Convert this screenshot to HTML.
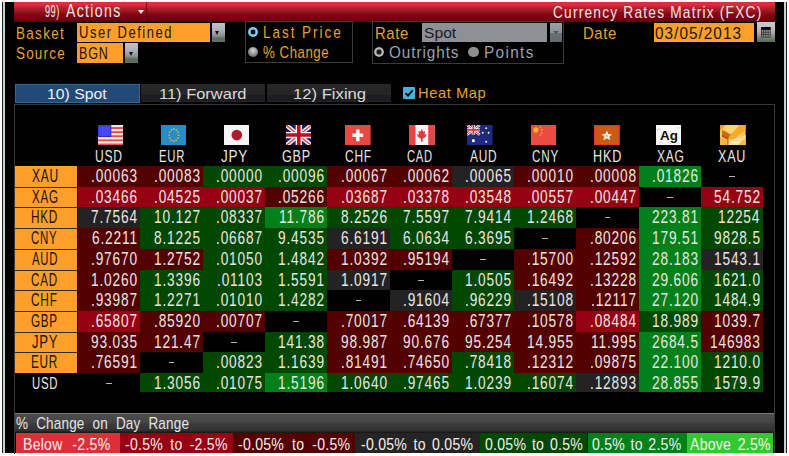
<!DOCTYPE html><html><head><meta charset="utf-8"><style>
html,body{margin:0;padding:0;width:789px;height:456px;overflow:hidden;background:#fff}
body>div,body>svg{position:absolute}
.t{position:absolute;white-space:pre;font-family:"Liberation Sans",sans-serif;transform-origin:0 0}
.m span{position:absolute;top:0}
</style></head><body>
<div style="left:0;top:0;width:789px;height:456px;background:#fff"></div>
<div style="left:2.00px;top:2.00px;width:1.00px;height:451.00px;background:#202020;"></div>
<div style="left:3.00px;top:2.00px;width:2.00px;height:451.00px;background:#c8d0d4;"></div>
<div style="left:784.00px;top:2.00px;width:2.00px;height:451.00px;background:#c8d0d4;"></div>
<div style="left:786.00px;top:2.00px;width:1.00px;height:451.00px;background:#202020;"></div>
<div style="left:5.00px;top:2.00px;width:779.00px;height:451.00px;background:#000;"></div>
<div style="left:14.00px;top:2.00px;width:761.00px;height:18.80px;background:linear-gradient(#e82838 0px,#d83040 1px,#d63040 3px,#c82838 4px,#b82030 6px,#a02028 7px,#9c1c20 9px,#901020 10px,#880818 12px,#800010 14px,#760010 16px,#6a0008 18.8px);"></div>
<div style="left:14.00px;top:20.80px;width:761.00px;height:1.00px;background:#1c2222;"></div>
<div style="left:146.00px;top:2.00px;width:1.00px;height:19.50px;background:rgba(60,0,0,0.6);"></div>
<div class="t" style="left:45.18px;top:4.00px;font-size:16.57px;line-height:16.57px;color:#ece6e2;transform:scaleX(0.5609);letter-spacing:0.706px;">99)</div>
<div class="t" style="left:65.80px;top:3.00px;font-size:17.59px;line-height:17.59px;color:#ece6e2;transform:scaleX(0.8000);letter-spacing:1.676px;">Actions</div>
<div style="left:137.5px;top:10px;width:0;height:0;border-left:3.2px solid transparent;border-right:3.2px solid transparent;border-top:4px solid #f0e8e8"></div>
<div class="t" style="left:553.01px;top:4.00px;font-size:17.15px;line-height:17.15px;color:#ece6e2;transform:scaleX(0.8000);letter-spacing:1.512px;">Currency Rates Matrix (FXC)</div>
<div class="t" style="left:15.52px;top:26.00px;font-size:16.86px;line-height:16.86px;color:#e8a030;transform:scaleX(0.8000);letter-spacing:1.635px;">Basket</div>
<div class="t" style="left:15.99px;top:46.00px;font-size:16.86px;line-height:16.86px;color:#e8a030;transform:scaleX(0.8000);letter-spacing:1.481px;">Source</div>
<div style="left:77.10px;top:22.50px;width:133.10px;height:19.40px;background:#fd9f2a;"></div>
<div class="t" style="left:78.72px;top:24.00px;font-size:16.28px;line-height:16.28px;color:#1c1408;transform:scaleX(0.8000);letter-spacing:1.879px;">User Defined</div>
<div style="left:211.60px;top:22.50px;width:13.00px;height:19.50px;background:linear-gradient(#c6bec8 0%,#b4b8c0 25%,#a0a6aa 50%,#868e8c 68%,#5c6a5e 82%,#66726a 100%);"></div>
<div style="left:215.10px;top:31.15px;width:0;height:0;border-left:2.6px solid transparent;border-right:2.6px solid transparent;border-top:4px solid #101010"></div>
<div style="left:77.10px;top:43.30px;width:46.00px;height:19.70px;background:#fd9f2a;"></div>
<div class="t" style="left:78.69px;top:46.00px;font-size:16.86px;line-height:16.86px;color:#1c1408;transform:scaleX(0.7452);letter-spacing:1.079px;">BGN</div>
<div style="left:125.20px;top:43.30px;width:12.80px;height:19.70px;background:linear-gradient(#c6bec8 0%,#b4b8c0 25%,#a0a6aa 50%,#868e8c 68%,#5c6a5e 82%,#66726a 100%);"></div>
<div style="left:128.60px;top:52.05px;width:0;height:0;border-left:2.6px solid transparent;border-right:2.6px solid transparent;border-top:4px solid #101010"></div>
<div style="left:245.3px;top:21px;width:105.6px;height:40.3px;border:1px solid #3c3c3c"></div>
<div style="left:247.6px;top:26.8px;width:10.4px;height:10.4px;border-radius:50%;background:radial-gradient(circle,#050505 0,#050505 2.1px,#58b0d0 2.6px,#8ad8f0 4px,#5ab8dc 5.2px)"></div>
<div style="left:247.6px;top:47px;width:10.4px;height:10.4px;border-radius:50%;background:radial-gradient(circle at 50% 35%,#d8d8d8,#8a8a8a 55%,#505050)"></div>
<div class="t" style="left:262.52px;top:25.00px;font-size:16.86px;line-height:16.86px;color:#e8a030;transform:scaleX(0.8000);letter-spacing:2.462px;">Last Price</div>
<div class="t" style="left:263.14px;top:44.00px;font-size:17.01px;line-height:17.01px;color:#e8a030;transform:scaleX(0.7779);letter-spacing:0.712px;">% Change</div>
<div style="left:372px;top:21.4px;width:189.6px;height:40.4px;border:1px solid #3c3c3c"></div>
<div class="t" style="left:375.01px;top:26.00px;font-size:16.86px;line-height:16.86px;color:#e8a030;transform:scaleX(0.8791);letter-spacing:0.712px;">Rate</div>
<div style="left:422.20px;top:22.90px;width:124.90px;height:18.80px;background:#8e9096;"></div>
<div class="t" style="left:423.50px;top:25.00px;font-size:15.41px;line-height:15.41px;color:#17202c;transform:scaleX(1.0165);">Spot</div>
<div style="left:549.90px;top:22.90px;width:12.60px;height:18.80px;background:linear-gradient(#9aa0a4 0%,#8a9094 50%,#6a7278 55%,#626a70 100%);"></div>
<div style="left:553.2px;top:31px;width:0;height:0;border-left:3px solid transparent;border-right:3px solid transparent;border-top:3px solid #50585c"></div>
<div style="left:373.6px;top:47px;width:10.4px;height:10.4px;border-radius:50%;background:radial-gradient(circle,#181818 0,#181818 2.1px,#8a8a8a 2.7px,#c8c8c8 4px,#7a7a7a 5.2px)"></div>
<div class="t" style="left:388.71px;top:44.00px;font-size:16.13px;line-height:16.13px;color:#9aa2aa;transform:scaleX(0.9500);letter-spacing:0.97px;">Outrights</div>
<div style="left:468.4px;top:47px;width:10.4px;height:10.4px;border-radius:50%;background:#8e8e8e"></div>
<div class="t" style="left:483.57px;top:44.00px;font-size:16.13px;line-height:16.13px;color:#9aa2aa;transform:scaleX(0.9500);letter-spacing:1.443px;">Points</div>
<div class="t" style="left:583.21px;top:26.00px;font-size:16.86px;line-height:16.86px;color:#e8a030;transform:scaleX(0.8819);letter-spacing:0.712px;">Date</div>
<div style="left:653.90px;top:22.80px;width:100.20px;height:18.80px;background:#fd9f2a;"></div>
<div class="t" style="left:655.39px;top:25.00px;font-size:17.01px;line-height:17.01px;color:#1c1408;transform:scaleX(0.9000);letter-spacing:1.163px;">03/05/2013</div>
<div style="left:757.00px;top:22.20px;width:17.60px;height:19.70px;background:linear-gradient(#cec6ce 0%,#c0c0c8 25%,#a8b0b0 50%,#8a9290 70%,#6a7a6c 85%,#5a6a5c 100%);"></div>
<svg style="position:absolute;left:761.4px;top:27.4px" width="9.6" height="10.4" viewBox="0 0 9.6 10.4"><rect x="0" y="0" width="9.6" height="10.4" fill="#202020"/><rect x="0" y="0" width="9.6" height="2.4" fill="#050505"/><rect x="0.60" y="3.00" width="1.7" height="1.9" fill="#8a9088"/><rect x="2.85" y="3.00" width="1.7" height="1.9" fill="#8a9088"/><rect x="5.10" y="3.00" width="1.7" height="1.9" fill="#8a9088"/><rect x="7.35" y="3.00" width="1.7" height="1.9" fill="#8a9088"/><rect x="0.60" y="5.45" width="1.7" height="1.9" fill="#8a9088"/><rect x="2.85" y="5.45" width="1.7" height="1.9" fill="#8a9088"/><rect x="5.10" y="5.45" width="1.7" height="1.9" fill="#8a9088"/><rect x="7.35" y="5.45" width="1.7" height="1.9" fill="#8a9088"/><rect x="0.60" y="7.90" width="1.7" height="1.9" fill="#8a9088"/><rect x="2.85" y="7.90" width="1.7" height="1.9" fill="#8a9088"/><rect x="5.10" y="7.90" width="1.7" height="1.9" fill="#8a9088"/><rect x="7.35" y="7.90" width="1.7" height="1.9" fill="#8a9088"/></svg>
<div style="left:14.7px;top:84.3px;width:125.3px;height:18.3px;background:#234a76;box-shadow:inset 0 0 0 1px #2c6a92"></div>
<div class="t" style="left:46.92px;top:87.00px;font-size:14.97px;line-height:14.97px;color:#f2eeee;transform:scaleX(1.0525);">10) Spot</div>
<div style="left:141.00px;top:83.80px;width:124.00px;height:18.40px;background:linear-gradient(#272727 0px,#262626 11px,#1b1d20 11.2px,#1b1d20 17px,#242424 17.2px);"></div>
<div style="left:267.00px;top:83.80px;width:124.40px;height:18.40px;background:linear-gradient(#272727 0px,#262626 11px,#1b1d20 11.2px,#1b1d20 17px,#242424 17.2px);"></div>
<div class="t" style="left:159.17px;top:87.00px;font-size:14.97px;line-height:14.97px;color:#dcd8d8;transform:scaleX(1.0997);">11) Forward</div>
<div class="t" style="left:293.35px;top:87.00px;font-size:14.97px;line-height:14.97px;color:#dcd8d8;transform:scaleX(1.1127);">12) Fixing</div>
<div style="left:403.00px;top:87.40px;width:11.80px;height:12.00px;background:#44b4dc;border-radius:1px"></div>
<svg style="position:absolute;left:403px;top:87.4px" width="12" height="12" viewBox="0 0 12 12"><path d="M2.5 6.2 L5 8.6 L9.6 3.4" stroke="#050505" stroke-width="1.8" fill="none"/></svg>
<div class="t" style="left:418.22px;top:85.00px;font-size:15.55px;line-height:15.55px;color:#e8a030;transform:scaleX(0.9450);letter-spacing:0.598px;">Heat Map</div>
<div style="left:14.3px;top:104.2px;width:759.3px;height:349px;border-left:1px solid #3a3838;border-top:1px solid #3a3838"></div>
<div style="left:773.60px;top:104.20px;width:1.20px;height:349.20px;background:#3a3838;"></div>
<svg style="position:absolute;left:97.70px;top:124.60px" width="25.6" height="20.6" viewBox="0 0 26 21" preserveAspectRatio="none"><rect width="26" height="21" fill="#eceae4"/><rect x="0" y="0.00" width="26" height="2.1" fill="#eceae4"/><rect x="0" y="2.10" width="26" height="2.1" fill="#ee4848"/><rect x="0" y="4.20" width="26" height="2.1" fill="#eceae4"/><rect x="0" y="6.30" width="26" height="2.1" fill="#ee4848"/><rect x="0" y="8.40" width="26" height="2.1" fill="#eceae4"/><rect x="0" y="10.50" width="26" height="2.1" fill="#ee4848"/><rect x="0" y="12.60" width="26" height="2.1" fill="#eceae4"/><rect x="0" y="14.70" width="26" height="2.1" fill="#ee4848"/><rect x="0" y="16.80" width="26" height="2.1" fill="#eceae4"/><rect x="0" y="18.90" width="26" height="2.1" fill="#ee4848"/><rect width="13" height="11.6" fill="#4848f0"/><rect width="13" height="11.6" fill="none" stroke="#2020e0" stroke-width="1"/></svg>
<div class="t" style="left:95.40px;top:148.00px;font-size:17.15px;line-height:17.15px;color:#ece6e2;transform:scaleX(0.7023);letter-spacing:1.089px;">USD</div>
<svg style="position:absolute;left:160.80px;top:124.60px" width="25.6" height="20.6" viewBox="0 0 26 21" preserveAspectRatio="none"><rect width="26" height="21" fill="#2a8cc4"/><circle cx="17.80" cy="10.30" r="0.95" fill="#d8b828"/><circle cx="17.16" cy="13.40" r="0.95" fill="#d8b828"/><circle cx="15.40" cy="15.67" r="0.95" fill="#d8b828"/><circle cx="13.00" cy="16.50" r="0.95" fill="#d8b828"/><circle cx="10.60" cy="15.67" r="0.95" fill="#d8b828"/><circle cx="8.84" cy="13.40" r="0.95" fill="#d8b828"/><circle cx="8.20" cy="10.30" r="0.95" fill="#d8b828"/><circle cx="8.84" cy="7.20" r="0.95" fill="#d8b828"/><circle cx="10.60" cy="4.93" r="0.95" fill="#d8b828"/><circle cx="13.00" cy="4.10" r="0.95" fill="#d8b828"/><circle cx="15.40" cy="4.93" r="0.95" fill="#d8b828"/><circle cx="17.16" cy="7.20" r="0.95" fill="#d8b828"/></svg>
<div class="t" style="left:158.79px;top:148.00px;font-size:17.15px;line-height:17.15px;color:#ece6e2;transform:scaleX(0.6626);letter-spacing:1.087px;">EUR</div>
<svg style="position:absolute;left:223.80px;top:124.60px" width="25.6" height="20.6" viewBox="0 0 26 21" preserveAspectRatio="none"><rect width="26" height="21" fill="#f6f4f4"/><circle cx="13" cy="10.3" r="5.4" fill="#b0182c"/></svg>
<div class="t" style="left:220.90px;top:148.00px;font-size:17.15px;line-height:17.15px;color:#ece6e2;transform:scaleX(0.7877);letter-spacing:0.983px;">JPY</div>
<svg style="position:absolute;left:285.70px;top:124.60px" width="25.6" height="20.6" viewBox="0 0 26 21" preserveAspectRatio="none"><rect width="26" height="21" fill="#1c1c64"/><path d="M0 0L26 21M26 0L0 21" stroke="#f0f0f0" stroke-width="4.4"/><path d="M0 0L26 21M26 0L0 21" stroke="#e04040" stroke-width="1.4"/><path d="M13 0V21M0 10.3H26" stroke="#f4f4f4" stroke-width="6.4"/><path d="M13 0V21M0 10.3H26" stroke="#b81020" stroke-width="3.6"/></svg>
<div class="t" style="left:281.77px;top:148.00px;font-size:17.15px;line-height:17.15px;color:#ece6e2;transform:scaleX(0.7335);letter-spacing:1.1px;">GBP</div>
<svg style="position:absolute;left:345.20px;top:124.60px" width="25.6" height="20.6" viewBox="0 0 26 21" preserveAspectRatio="none"><rect width="26" height="21" fill="#e84844"/><path d="M13 4.5V16.5M7.5 10.5H18.5" stroke="#f8f8f8" stroke-width="3.6"/></svg>
<div class="t" style="left:345.10px;top:148.00px;font-size:17.15px;line-height:17.15px;color:#ece6e2;transform:scaleX(0.7001);letter-spacing:1.076px;">CHF</div>
<svg style="position:absolute;left:409.10px;top:124.60px" width="25.6" height="20.6" viewBox="0 0 26 21" preserveAspectRatio="none"><rect width="26" height="21" fill="#f6f4f4"/><rect width="6.5" height="21" fill="#e84448"/><rect x="19.5" width="6.5" height="21" fill="#e84448"/><path d="M13 4L14.5 7L16.5 6.2L15.8 10L18 9L17 12L13.8 14V17H12.2V14L9 12L8 9L10.2 10L9.5 6.2L11.5 7Z" fill="#e03a40"/></svg>
<div class="t" style="left:407.04px;top:148.00px;font-size:17.15px;line-height:17.15px;color:#ece6e2;transform:scaleX(0.6528);letter-spacing:1.103px;">CAD</div>
<svg style="position:absolute;left:467.20px;top:124.60px" width="25.6" height="20.6" viewBox="0 0 26 21" preserveAspectRatio="none"><rect width="26" height="21" fill="#1e2a80"/><g><path d="M0 0L13 10M13 0L0 10" stroke="#f0f0f0" stroke-width="2.6"/><path d="M0 0L13 10M13 0L0 10" stroke="#e03040" stroke-width="1"/><path d="M6.5 0V10M0 5H13" stroke="#f4f4f4" stroke-width="3.4"/><path d="M6.5 0V10M0 5H13" stroke="#e03040" stroke-width="1.8"/></g><circle cx="6.5" cy="16" r="1.6" fill="#f0f0f0"/><circle cx="19.5" cy="3.2" r="1" fill="#f0f0f0"/><circle cx="16" cy="8" r="1" fill="#f0f0f0"/><circle cx="22" cy="8" r="1" fill="#f0f0f0"/><circle cx="19.5" cy="17" r="1" fill="#f0f0f0"/></svg>
<div class="t" style="left:469.50px;top:148.00px;font-size:17.15px;line-height:17.15px;color:#ece6e2;transform:scaleX(0.6927);letter-spacing:1.13px;">AUD</div>
<svg style="position:absolute;left:530.60px;top:124.60px" width="25.6" height="20.6" viewBox="0 0 26 21" preserveAspectRatio="none"><rect width="26" height="21" fill="#ec4c40"/><circle cx="5" cy="5" r="2.6" fill="#f0b030"/><circle cx="9.5" cy="2.5" r="0.8" fill="#f0b030"/><circle cx="11" cy="5" r="0.8" fill="#f0b030"/><circle cx="11" cy="8" r="0.8" fill="#f0b030"/><circle cx="9.5" cy="10.3" r="0.8" fill="#f0b030"/></svg>
<div class="t" style="left:532.31px;top:148.00px;font-size:17.15px;line-height:17.15px;color:#ece6e2;transform:scaleX(0.6824);letter-spacing:1.117px;">CNY</div>
<svg style="position:absolute;left:594.10px;top:124.60px" width="25.6" height="20.6" viewBox="0 0 26 21" preserveAspectRatio="none"><rect width="26" height="21" fill="#cc5a14"/><rect x="0.6" y="0.6" width="24.8" height="19.8" fill="none" stroke="#e83428" stroke-width="1.3"/><path d="M13 5.6L14.6 9.2L18.4 9.4L15.5 12L16.6 15.6L13 13.6L9.4 15.6L10.5 12L7.6 9.4L11.4 9.2Z" fill="#f4ece8"/><circle cx="13" cy="11.2" r="0.9" fill="#d89050"/></svg>
<div class="t" style="left:592.99px;top:148.00px;font-size:17.15px;line-height:17.15px;color:#ece6e2;transform:scaleX(0.7372);letter-spacing:1.087px;">HKD</div>
<svg style="position:absolute;left:655.70px;top:124.60px" width="25.6" height="20.6" viewBox="0 0 26 21" preserveAspectRatio="none"><rect width="26" height="21" fill="#f8f8f8"/><path d="M1 5 Q3 3 5 5" stroke="#c8c8d0" stroke-width="1" fill="none"/><path d="M20 3 L24 3" stroke="#d0d0d0" stroke-width="1"/><path d="M2 18 L6 18" stroke="#d8d8d0" stroke-width="1"/><text x="13.2" y="15.6" text-anchor="middle" font-family="Liberation Sans" font-weight="bold" font-size="13.6" fill="#0c0c0c">Ag</text></svg>
<div class="t" style="left:656.70px;top:148.00px;font-size:17.15px;line-height:17.15px;color:#ece6e2;transform:scaleX(0.7017);letter-spacing:1.103px;">XAG</div>
<svg style="position:absolute;left:720.00px;top:124.60px" width="25.6" height="20.6" viewBox="0 0 26 21" preserveAspectRatio="none"><rect width="26" height="21" fill="#f8c860"/><path d="M0 0H5L0 6Z" fill="#f0a028"/><path d="M5 0H20L11 9L6 6Z" fill="#f8d47a"/><path d="M20 0H26V5L12 16L8 13Z" fill="#f6aa2a"/><path d="M2 5L6 7L11 10L8 14L2 11Z" fill="#c87010"/><path d="M2 10L6 12L9 13L8 15L4 13L2 12Z" fill="#c04c10"/><path d="M0 12L8 16V21H0Z" fill="#f2b446"/><path d="M9 16L22 12L26 10V21H9Z" fill="#f2dca0"/><path d="M18 21L26 13V21Z" fill="#f8b838"/><path d="M8 15V21" stroke="#a86010" stroke-width="1"/><path d="M12 18H20" stroke="#f8f0d8" stroke-width="1.2"/></svg>
<div class="t" style="left:718.49px;top:148.00px;font-size:17.15px;line-height:17.15px;color:#ece6e2;transform:scaleX(0.7317);letter-spacing:1.07px;">XAU</div>
<div style="left:15.00px;top:166.00px;width:62.00px;height:21.00px;background:#fd9f2a;"></div>
<div class="t" style="left:31.70px;top:168.00px;font-size:17.44px;line-height:17.44px;color:#1c1408;transform:scaleX(0.6864);letter-spacing:1.088px;">XAU</div>
<div style="left:78.00px;top:166.00px;width:62.00px;height:21.00px;background:#530000;"></div>
<div class="t" style="left:90.85px;top:167.00px;font-size:18.02px;line-height:18.02px;color:#ece6e2;transform:scaleX(0.7600);letter-spacing:1.1px;">.00063</div>
<div style="left:140.00px;top:166.00px;width:63.00px;height:21.00px;background:#530000;"></div>
<div class="t" style="left:153.85px;top:167.00px;font-size:18.02px;line-height:18.02px;color:#ece6e2;transform:scaleX(0.7600);letter-spacing:1.1px;">.00083</div>
<div style="left:203.00px;top:166.00px;width:62.00px;height:21.00px;background:#004800;"></div>
<div class="t" style="left:215.78px;top:167.00px;font-size:18.02px;line-height:18.02px;color:#ece6e2;transform:scaleX(0.7600);letter-spacing:1.1px;">.00000</div>
<div style="left:265.00px;top:166.00px;width:62.00px;height:21.00px;background:#004800;"></div>
<div class="t" style="left:277.85px;top:167.00px;font-size:18.02px;line-height:18.02px;color:#ece6e2;transform:scaleX(0.7600);letter-spacing:1.1px;">.00096</div>
<div style="left:327.00px;top:166.00px;width:63.00px;height:21.00px;background:#530000;"></div>
<div class="t" style="left:340.99px;top:167.00px;font-size:18.02px;line-height:18.02px;color:#ece6e2;transform:scaleX(0.7600);letter-spacing:1.1px;">.00067</div>
<div style="left:390.00px;top:166.00px;width:62.00px;height:21.00px;background:#530000;"></div>
<div class="t" style="left:402.99px;top:167.00px;font-size:18.02px;line-height:18.02px;color:#ece6e2;transform:scaleX(0.7600);letter-spacing:1.1px;">.00062</div>
<div style="left:452.00px;top:166.00px;width:62.00px;height:21.00px;background:#232323;"></div>
<div class="t" style="left:464.85px;top:167.00px;font-size:18.02px;line-height:18.02px;color:#ece6e2;transform:scaleX(0.7600);letter-spacing:1.1px;">.00065</div>
<div style="left:514.00px;top:166.00px;width:62.00px;height:21.00px;background:#530000;"></div>
<div class="t" style="left:526.78px;top:167.00px;font-size:18.02px;line-height:18.02px;color:#ece6e2;transform:scaleX(0.7600);letter-spacing:1.1px;">.00010</div>
<div style="left:576.00px;top:166.00px;width:63.00px;height:21.00px;background:#530000;"></div>
<div class="t" style="left:589.85px;top:167.00px;font-size:18.02px;line-height:18.02px;color:#ece6e2;transform:scaleX(0.7600);letter-spacing:1.1px;">.00008</div>
<div style="left:639.00px;top:166.00px;width:62.00px;height:21.00px;background:#008018;"></div>
<div class="t" style="left:651.85px;top:167.00px;font-size:18.02px;line-height:18.02px;color:#ece6e2;transform:scaleX(0.7600);letter-spacing:1.1px;">.01826</div>
<div style="left:729.40px;top:175.60px;width:5.20px;height:1.20px;background:#b8b4b4;"></div>
<div style="left:15.00px;top:188.00px;width:62.00px;height:19.00px;background:#fd9f2a;"></div>
<div style="left:15.00px;top:187.00px;width:62.00px;height:1.00px;background:#2e2c0c;"></div>
<div class="t" style="left:31.71px;top:189.00px;font-size:17.44px;line-height:17.44px;color:#1c1408;transform:scaleX(0.6660);letter-spacing:1.122px;">XAG</div>
<div style="left:78.00px;top:187.00px;width:62.00px;height:20.00px;background:#960012;"></div>
<div class="t" style="left:90.85px;top:188.00px;font-size:18.02px;line-height:18.02px;color:#ece6e2;transform:scaleX(0.7600);letter-spacing:1.1px;">.03466</div>
<div style="left:140.00px;top:187.00px;width:63.00px;height:20.00px;background:#960012;"></div>
<div class="t" style="left:153.85px;top:188.00px;font-size:18.02px;line-height:18.02px;color:#ece6e2;transform:scaleX(0.7600);letter-spacing:1.1px;">.04525</div>
<div style="left:203.00px;top:187.00px;width:62.00px;height:20.00px;background:#960012;"></div>
<div class="t" style="left:215.99px;top:188.00px;font-size:18.02px;line-height:18.02px;color:#ece6e2;transform:scaleX(0.7600);letter-spacing:1.1px;">.00037</div>
<div style="left:265.00px;top:187.00px;width:62.00px;height:20.00px;background:#530000;"></div>
<div class="t" style="left:277.85px;top:188.00px;font-size:18.02px;line-height:18.02px;color:#ece6e2;transform:scaleX(0.7600);letter-spacing:1.1px;">.05266</div>
<div style="left:327.00px;top:187.00px;width:63.00px;height:20.00px;background:#960012;"></div>
<div class="t" style="left:340.99px;top:188.00px;font-size:18.02px;line-height:18.02px;color:#ece6e2;transform:scaleX(0.7600);letter-spacing:1.1px;">.03687</div>
<div style="left:390.00px;top:187.00px;width:62.00px;height:20.00px;background:#960012;"></div>
<div class="t" style="left:402.85px;top:188.00px;font-size:18.02px;line-height:18.02px;color:#ece6e2;transform:scaleX(0.7600);letter-spacing:1.1px;">.03378</div>
<div style="left:452.00px;top:187.00px;width:62.00px;height:20.00px;background:#960012;"></div>
<div class="t" style="left:464.85px;top:188.00px;font-size:18.02px;line-height:18.02px;color:#ece6e2;transform:scaleX(0.7600);letter-spacing:1.1px;">.03548</div>
<div style="left:514.00px;top:187.00px;width:62.00px;height:20.00px;background:#960012;"></div>
<div class="t" style="left:526.99px;top:188.00px;font-size:18.02px;line-height:18.02px;color:#ece6e2;transform:scaleX(0.7600);letter-spacing:1.1px;">.00557</div>
<div style="left:576.00px;top:187.00px;width:63.00px;height:20.00px;background:#960012;"></div>
<div class="t" style="left:589.99px;top:188.00px;font-size:18.02px;line-height:18.02px;color:#ece6e2;transform:scaleX(0.7600);letter-spacing:1.1px;">.00447</div>
<div style="left:667.40px;top:196.60px;width:5.20px;height:1.20px;background:#b8b4b4;"></div>
<div style="left:701.00px;top:187.00px;width:62.00px;height:20.00px;background:#960012;"></div>
<div class="t" style="left:713.99px;top:188.00px;font-size:18.02px;line-height:18.02px;color:#ece6e2;transform:scaleX(0.7600);letter-spacing:1.1px;">54.752</div>
<div style="left:15.00px;top:208.00px;width:62.00px;height:20.00px;background:#fd9f2a;"></div>
<div style="left:15.00px;top:207.00px;width:62.00px;height:1.00px;background:#2e2c0c;"></div>
<div class="t" style="left:31.06px;top:209.00px;font-size:17.44px;line-height:17.44px;color:#1c1408;transform:scaleX(0.6760);letter-spacing:1.105px;">HKD</div>
<div style="left:78.00px;top:207.00px;width:62.00px;height:21.00px;background:#232323;"></div>
<div class="t" style="left:90.72px;top:208.00px;font-size:18.02px;line-height:18.02px;color:#ece6e2;transform:scaleX(0.7600);letter-spacing:1.1px;">7.7564</div>
<div style="left:140.00px;top:207.00px;width:63.00px;height:21.00px;background:#004800;"></div>
<div class="t" style="left:153.99px;top:208.00px;font-size:18.02px;line-height:18.02px;color:#ece6e2;transform:scaleX(0.7600);letter-spacing:1.1px;">10.127</div>
<div style="left:203.00px;top:207.00px;width:62.00px;height:21.00px;background:#004800;"></div>
<div class="t" style="left:215.99px;top:208.00px;font-size:18.02px;line-height:18.02px;color:#ece6e2;transform:scaleX(0.7600);letter-spacing:1.1px;">.08337</div>
<div style="left:265.00px;top:207.00px;width:62.00px;height:21.00px;background:#008018;"></div>
<div class="t" style="left:278.88px;top:208.00px;font-size:18.02px;line-height:18.02px;color:#ece6e2;transform:scaleX(0.7600);letter-spacing:1.1px;">11.786</div>
<div style="left:327.00px;top:207.00px;width:63.00px;height:21.00px;background:#004800;"></div>
<div class="t" style="left:340.85px;top:208.00px;font-size:18.02px;line-height:18.02px;color:#ece6e2;transform:scaleX(0.7600);letter-spacing:1.1px;">8.2526</div>
<div style="left:390.00px;top:207.00px;width:62.00px;height:21.00px;background:#004800;"></div>
<div class="t" style="left:402.99px;top:208.00px;font-size:18.02px;line-height:18.02px;color:#ece6e2;transform:scaleX(0.7600);letter-spacing:1.1px;">7.5597</div>
<div style="left:452.00px;top:207.00px;width:62.00px;height:21.00px;background:#004800;"></div>
<div class="t" style="left:464.72px;top:208.00px;font-size:18.02px;line-height:18.02px;color:#ece6e2;transform:scaleX(0.7600);letter-spacing:1.1px;">7.9414</div>
<div style="left:514.00px;top:207.00px;width:62.00px;height:21.00px;background:#004800;"></div>
<div class="t" style="left:526.85px;top:208.00px;font-size:18.02px;line-height:18.02px;color:#ece6e2;transform:scaleX(0.7600);letter-spacing:1.1px;">1.2468</div>
<div style="left:604.90px;top:216.60px;width:5.20px;height:1.20px;background:#b8b4b4;"></div>
<div style="left:639.00px;top:207.00px;width:62.00px;height:21.00px;background:#008018;"></div>
<div class="t" style="left:651.92px;top:208.00px;font-size:18.02px;line-height:18.02px;color:#ece6e2;transform:scaleX(0.7600);letter-spacing:1.1px;">223.81</div>
<div style="left:701.00px;top:207.00px;width:62.00px;height:21.00px;background:#004800;"></div>
<div class="t" style="left:718.39px;top:208.00px;font-size:18.02px;line-height:18.02px;color:#ece6e2;transform:scaleX(0.7600);letter-spacing:1.1px;">12254</div>
<div style="left:15.00px;top:229.00px;width:62.00px;height:20.00px;background:#fd9f2a;"></div>
<div style="left:15.00px;top:228.00px;width:62.00px;height:1.00px;background:#2e2c0c;"></div>
<div class="t" style="left:31.43px;top:230.00px;font-size:17.44px;line-height:17.44px;color:#1c1408;transform:scaleX(0.6578);letter-spacing:1.136px;">CNY</div>
<div style="left:78.00px;top:228.00px;width:62.00px;height:21.00px;background:#530000;"></div>
<div class="t" style="left:91.95px;top:229.00px;font-size:18.02px;line-height:18.02px;color:#ece6e2;transform:scaleX(0.7600);letter-spacing:1.1px;">6.2211</div>
<div style="left:140.00px;top:228.00px;width:63.00px;height:21.00px;background:#004800;"></div>
<div class="t" style="left:153.85px;top:229.00px;font-size:18.02px;line-height:18.02px;color:#ece6e2;transform:scaleX(0.7600);letter-spacing:1.1px;">8.1225</div>
<div style="left:203.00px;top:228.00px;width:62.00px;height:21.00px;background:#004800;"></div>
<div class="t" style="left:215.99px;top:229.00px;font-size:18.02px;line-height:18.02px;color:#ece6e2;transform:scaleX(0.7600);letter-spacing:1.1px;">.06687</div>
<div style="left:265.00px;top:228.00px;width:62.00px;height:21.00px;background:#004800;"></div>
<div class="t" style="left:277.85px;top:229.00px;font-size:18.02px;line-height:18.02px;color:#ece6e2;transform:scaleX(0.7600);letter-spacing:1.1px;">9.4535</div>
<div style="left:327.00px;top:228.00px;width:63.00px;height:21.00px;background:#232323;"></div>
<div class="t" style="left:340.92px;top:229.00px;font-size:18.02px;line-height:18.02px;color:#ece6e2;transform:scaleX(0.7600);letter-spacing:1.1px;">6.6191</div>
<div style="left:390.00px;top:228.00px;width:62.00px;height:21.00px;background:#004800;"></div>
<div class="t" style="left:402.72px;top:229.00px;font-size:18.02px;line-height:18.02px;color:#ece6e2;transform:scaleX(0.7600);letter-spacing:1.1px;">6.0634</div>
<div style="left:452.00px;top:228.00px;width:62.00px;height:21.00px;background:#004800;"></div>
<div class="t" style="left:464.85px;top:229.00px;font-size:18.02px;line-height:18.02px;color:#ece6e2;transform:scaleX(0.7600);letter-spacing:1.1px;">6.3695</div>
<div style="left:542.40px;top:237.60px;width:5.20px;height:1.20px;background:#b8b4b4;"></div>
<div style="left:576.00px;top:228.00px;width:63.00px;height:21.00px;background:#530000;"></div>
<div class="t" style="left:589.85px;top:229.00px;font-size:18.02px;line-height:18.02px;color:#ece6e2;transform:scaleX(0.7600);letter-spacing:1.1px;">.80206</div>
<div style="left:639.00px;top:228.00px;width:62.00px;height:21.00px;background:#008018;"></div>
<div class="t" style="left:651.92px;top:229.00px;font-size:18.02px;line-height:18.02px;color:#ece6e2;transform:scaleX(0.7600);letter-spacing:1.1px;">179.51</div>
<div style="left:701.00px;top:228.00px;width:62.00px;height:21.00px;background:#004800;"></div>
<div class="t" style="left:713.85px;top:229.00px;font-size:18.02px;line-height:18.02px;color:#ece6e2;transform:scaleX(0.7600);letter-spacing:1.1px;">9828.5</div>
<div style="left:15.00px;top:250.00px;width:62.00px;height:20.00px;background:#fd9f2a;"></div>
<div style="left:15.00px;top:249.00px;width:62.00px;height:1.00px;background:#2e2c0c;"></div>
<div class="t" style="left:32.00px;top:251.00px;font-size:17.44px;line-height:17.44px;color:#1c1408;transform:scaleX(0.6498);letter-spacing:1.15px;">AUD</div>
<div style="left:78.00px;top:249.00px;width:62.00px;height:21.00px;background:#530000;"></div>
<div class="t" style="left:90.78px;top:250.00px;font-size:18.02px;line-height:18.02px;color:#ece6e2;transform:scaleX(0.7600);letter-spacing:1.1px;">.97670</div>
<div style="left:140.00px;top:249.00px;width:63.00px;height:21.00px;background:#530000;"></div>
<div class="t" style="left:153.99px;top:250.00px;font-size:18.02px;line-height:18.02px;color:#ece6e2;transform:scaleX(0.7600);letter-spacing:1.1px;">1.2752</div>
<div style="left:203.00px;top:249.00px;width:62.00px;height:21.00px;background:#004800;"></div>
<div class="t" style="left:215.78px;top:250.00px;font-size:18.02px;line-height:18.02px;color:#ece6e2;transform:scaleX(0.7600);letter-spacing:1.1px;">.01050</div>
<div style="left:265.00px;top:249.00px;width:62.00px;height:21.00px;background:#004800;"></div>
<div class="t" style="left:277.99px;top:250.00px;font-size:18.02px;line-height:18.02px;color:#ece6e2;transform:scaleX(0.7600);letter-spacing:1.1px;">1.4842</div>
<div style="left:327.00px;top:249.00px;width:63.00px;height:21.00px;background:#530000;"></div>
<div class="t" style="left:340.99px;top:250.00px;font-size:18.02px;line-height:18.02px;color:#ece6e2;transform:scaleX(0.7600);letter-spacing:1.1px;">1.0392</div>
<div style="left:390.00px;top:249.00px;width:62.00px;height:21.00px;background:#530000;"></div>
<div class="t" style="left:402.72px;top:250.00px;font-size:18.02px;line-height:18.02px;color:#ece6e2;transform:scaleX(0.7600);letter-spacing:1.1px;">.95194</div>
<div style="left:480.40px;top:258.60px;width:5.20px;height:1.20px;background:#b8b4b4;"></div>
<div style="left:514.00px;top:249.00px;width:62.00px;height:21.00px;background:#530000;"></div>
<div class="t" style="left:526.78px;top:250.00px;font-size:18.02px;line-height:18.02px;color:#ece6e2;transform:scaleX(0.7600);letter-spacing:1.1px;">.15700</div>
<div style="left:576.00px;top:249.00px;width:63.00px;height:21.00px;background:#530000;"></div>
<div class="t" style="left:589.99px;top:250.00px;font-size:18.02px;line-height:18.02px;color:#ece6e2;transform:scaleX(0.7600);letter-spacing:1.1px;">.12592</div>
<div style="left:639.00px;top:249.00px;width:62.00px;height:21.00px;background:#008018;"></div>
<div class="t" style="left:651.85px;top:250.00px;font-size:18.02px;line-height:18.02px;color:#ece6e2;transform:scaleX(0.7600);letter-spacing:1.1px;">28.183</div>
<div style="left:701.00px;top:249.00px;width:62.00px;height:21.00px;background:#232323;"></div>
<div class="t" style="left:713.92px;top:250.00px;font-size:18.02px;line-height:18.02px;color:#ece6e2;transform:scaleX(0.7600);letter-spacing:1.1px;">1543.1</div>
<div style="left:15.00px;top:271.00px;width:62.00px;height:19.00px;background:#fd9f2a;"></div>
<div style="left:15.00px;top:270.00px;width:62.00px;height:1.00px;background:#2e2c0c;"></div>
<div class="t" style="left:31.42px;top:272.00px;font-size:17.44px;line-height:17.44px;color:#1c1408;transform:scaleX(0.6660);letter-spacing:1.122px;">CAD</div>
<div style="left:78.00px;top:270.00px;width:62.00px;height:20.00px;background:#530000;"></div>
<div class="t" style="left:90.78px;top:271.00px;font-size:18.02px;line-height:18.02px;color:#ece6e2;transform:scaleX(0.7600);letter-spacing:1.1px;">1.0260</div>
<div style="left:140.00px;top:270.00px;width:63.00px;height:20.00px;background:#004800;"></div>
<div class="t" style="left:153.85px;top:271.00px;font-size:18.02px;line-height:18.02px;color:#ece6e2;transform:scaleX(0.7600);letter-spacing:1.1px;">1.3396</div>
<div style="left:203.00px;top:270.00px;width:62.00px;height:20.00px;background:#004800;"></div>
<div class="t" style="left:216.88px;top:271.00px;font-size:18.02px;line-height:18.02px;color:#ece6e2;transform:scaleX(0.7600);letter-spacing:1.1px;">.01103</div>
<div style="left:265.00px;top:270.00px;width:62.00px;height:20.00px;background:#004800;"></div>
<div class="t" style="left:277.92px;top:271.00px;font-size:18.02px;line-height:18.02px;color:#ece6e2;transform:scaleX(0.7600);letter-spacing:1.1px;">1.5591</div>
<div style="left:327.00px;top:270.00px;width:63.00px;height:20.00px;background:#232323;"></div>
<div class="t" style="left:340.99px;top:271.00px;font-size:18.02px;line-height:18.02px;color:#ece6e2;transform:scaleX(0.7600);letter-spacing:1.1px;">1.0917</div>
<div style="left:418.40px;top:279.60px;width:5.20px;height:1.20px;background:#b8b4b4;"></div>
<div style="left:452.00px;top:270.00px;width:62.00px;height:20.00px;background:#004800;"></div>
<div class="t" style="left:464.85px;top:271.00px;font-size:18.02px;line-height:18.02px;color:#ece6e2;transform:scaleX(0.7600);letter-spacing:1.1px;">1.0505</div>
<div style="left:514.00px;top:270.00px;width:62.00px;height:20.00px;background:#530000;"></div>
<div class="t" style="left:526.99px;top:271.00px;font-size:18.02px;line-height:18.02px;color:#ece6e2;transform:scaleX(0.7600);letter-spacing:1.1px;">.16492</div>
<div style="left:576.00px;top:270.00px;width:63.00px;height:20.00px;background:#530000;"></div>
<div class="t" style="left:589.85px;top:271.00px;font-size:18.02px;line-height:18.02px;color:#ece6e2;transform:scaleX(0.7600);letter-spacing:1.1px;">.13228</div>
<div style="left:639.00px;top:270.00px;width:62.00px;height:20.00px;background:#008018;"></div>
<div class="t" style="left:651.85px;top:271.00px;font-size:18.02px;line-height:18.02px;color:#ece6e2;transform:scaleX(0.7600);letter-spacing:1.1px;">29.606</div>
<div style="left:701.00px;top:270.00px;width:62.00px;height:20.00px;background:#004800;"></div>
<div class="t" style="left:713.78px;top:271.00px;font-size:18.02px;line-height:18.02px;color:#ece6e2;transform:scaleX(0.7600);letter-spacing:1.1px;">1621.0</div>
<div style="left:15.00px;top:291.00px;width:62.00px;height:20.00px;background:#fd9f2a;"></div>
<div style="left:15.00px;top:290.00px;width:62.00px;height:1.00px;background:#2e2c0c;"></div>
<div class="t" style="left:31.40px;top:292.00px;font-size:17.44px;line-height:17.44px;color:#1c1408;transform:scaleX(0.6829);letter-spacing:1.094px;">CHF</div>
<div style="left:78.00px;top:290.00px;width:62.00px;height:21.00px;background:#530000;"></div>
<div class="t" style="left:90.99px;top:291.00px;font-size:18.02px;line-height:18.02px;color:#ece6e2;transform:scaleX(0.7600);letter-spacing:1.1px;">.93987</div>
<div style="left:140.00px;top:290.00px;width:63.00px;height:21.00px;background:#004800;"></div>
<div class="t" style="left:153.92px;top:291.00px;font-size:18.02px;line-height:18.02px;color:#ece6e2;transform:scaleX(0.7600);letter-spacing:1.1px;">1.2271</div>
<div style="left:203.00px;top:290.00px;width:62.00px;height:21.00px;background:#004800;"></div>
<div class="t" style="left:215.78px;top:291.00px;font-size:18.02px;line-height:18.02px;color:#ece6e2;transform:scaleX(0.7600);letter-spacing:1.1px;">.01010</div>
<div style="left:265.00px;top:290.00px;width:62.00px;height:21.00px;background:#004800;"></div>
<div class="t" style="left:277.99px;top:291.00px;font-size:18.02px;line-height:18.02px;color:#ece6e2;transform:scaleX(0.7600);letter-spacing:1.1px;">1.4282</div>
<div style="left:355.90px;top:299.60px;width:5.20px;height:1.20px;background:#b8b4b4;"></div>
<div style="left:390.00px;top:290.00px;width:62.00px;height:21.00px;background:#232323;"></div>
<div class="t" style="left:402.72px;top:291.00px;font-size:18.02px;line-height:18.02px;color:#ece6e2;transform:scaleX(0.7600);letter-spacing:1.1px;">.91604</div>
<div style="left:452.00px;top:290.00px;width:62.00px;height:21.00px;background:#004800;"></div>
<div class="t" style="left:464.92px;top:291.00px;font-size:18.02px;line-height:18.02px;color:#ece6e2;transform:scaleX(0.7600);letter-spacing:1.1px;">.96229</div>
<div style="left:514.00px;top:290.00px;width:62.00px;height:21.00px;background:#232323;"></div>
<div class="t" style="left:526.85px;top:291.00px;font-size:18.02px;line-height:18.02px;color:#ece6e2;transform:scaleX(0.7600);letter-spacing:1.1px;">.15108</div>
<div style="left:576.00px;top:290.00px;width:63.00px;height:21.00px;background:#530000;"></div>
<div class="t" style="left:591.02px;top:291.00px;font-size:18.02px;line-height:18.02px;color:#ece6e2;transform:scaleX(0.7600);letter-spacing:1.1px;">.12117</div>
<div style="left:639.00px;top:290.00px;width:62.00px;height:21.00px;background:#008018;"></div>
<div class="t" style="left:651.78px;top:291.00px;font-size:18.02px;line-height:18.02px;color:#ece6e2;transform:scaleX(0.7600);letter-spacing:1.1px;">27.120</div>
<div style="left:701.00px;top:290.00px;width:62.00px;height:21.00px;background:#004800;"></div>
<div class="t" style="left:713.92px;top:291.00px;font-size:18.02px;line-height:18.02px;color:#ece6e2;transform:scaleX(0.7600);letter-spacing:1.1px;">1484.9</div>
<div style="left:15.00px;top:312.00px;width:62.00px;height:20.00px;background:#fd9f2a;"></div>
<div style="left:15.00px;top:311.00px;width:62.00px;height:1.00px;background:#2e2c0c;"></div>
<div class="t" style="left:31.42px;top:313.00px;font-size:17.44px;line-height:17.44px;color:#1c1408;transform:scaleX(0.6676);letter-spacing:1.119px;">GBP</div>
<div style="left:78.00px;top:311.00px;width:62.00px;height:21.00px;background:#960012;"></div>
<div class="t" style="left:90.99px;top:312.00px;font-size:18.02px;line-height:18.02px;color:#ece6e2;transform:scaleX(0.7600);letter-spacing:1.1px;">.65807</div>
<div style="left:140.00px;top:311.00px;width:63.00px;height:21.00px;background:#530000;"></div>
<div class="t" style="left:153.78px;top:312.00px;font-size:18.02px;line-height:18.02px;color:#ece6e2;transform:scaleX(0.7600);letter-spacing:1.1px;">.85920</div>
<div style="left:203.00px;top:311.00px;width:62.00px;height:21.00px;background:#530000;"></div>
<div class="t" style="left:215.99px;top:312.00px;font-size:18.02px;line-height:18.02px;color:#ece6e2;transform:scaleX(0.7600);letter-spacing:1.1px;">.00707</div>
<div style="left:293.40px;top:320.60px;width:5.20px;height:1.20px;background:#b8b4b4;"></div>
<div style="left:327.00px;top:311.00px;width:63.00px;height:21.00px;background:#530000;"></div>
<div class="t" style="left:340.99px;top:312.00px;font-size:18.02px;line-height:18.02px;color:#ece6e2;transform:scaleX(0.7600);letter-spacing:1.1px;">.70017</div>
<div style="left:390.00px;top:311.00px;width:62.00px;height:21.00px;background:#530000;"></div>
<div class="t" style="left:402.92px;top:312.00px;font-size:18.02px;line-height:18.02px;color:#ece6e2;transform:scaleX(0.7600);letter-spacing:1.1px;">.64139</div>
<div style="left:452.00px;top:311.00px;width:62.00px;height:21.00px;background:#530000;"></div>
<div class="t" style="left:464.99px;top:312.00px;font-size:18.02px;line-height:18.02px;color:#ece6e2;transform:scaleX(0.7600);letter-spacing:1.1px;">.67377</div>
<div style="left:514.00px;top:311.00px;width:62.00px;height:21.00px;background:#530000;"></div>
<div class="t" style="left:526.85px;top:312.00px;font-size:18.02px;line-height:18.02px;color:#ece6e2;transform:scaleX(0.7600);letter-spacing:1.1px;">.10578</div>
<div style="left:576.00px;top:311.00px;width:63.00px;height:21.00px;background:#960012;"></div>
<div class="t" style="left:589.72px;top:312.00px;font-size:18.02px;line-height:18.02px;color:#ece6e2;transform:scaleX(0.7600);letter-spacing:1.1px;">.08484</div>
<div style="left:639.00px;top:311.00px;width:62.00px;height:21.00px;background:#004800;"></div>
<div class="t" style="left:651.92px;top:312.00px;font-size:18.02px;line-height:18.02px;color:#ece6e2;transform:scaleX(0.7600);letter-spacing:1.1px;">18.989</div>
<div style="left:701.00px;top:311.00px;width:62.00px;height:21.00px;background:#530000;"></div>
<div class="t" style="left:713.99px;top:312.00px;font-size:18.02px;line-height:18.02px;color:#ece6e2;transform:scaleX(0.7600);letter-spacing:1.1px;">1039.7</div>
<div style="left:15.00px;top:333.00px;width:62.00px;height:19.00px;background:#fd9f2a;"></div>
<div style="left:15.00px;top:332.00px;width:62.00px;height:1.00px;background:#2e2c0c;"></div>
<div class="t" style="left:31.80px;top:334.00px;font-size:17.44px;line-height:17.44px;color:#1c1408;transform:scaleX(0.7476);letter-spacing:0.999px;">JPY</div>
<div style="left:78.00px;top:332.00px;width:62.00px;height:20.00px;background:#530000;"></div>
<div class="t" style="left:90.85px;top:333.00px;font-size:18.02px;line-height:18.02px;color:#ece6e2;transform:scaleX(0.7600);letter-spacing:1.1px;">93.035</div>
<div style="left:140.00px;top:332.00px;width:63.00px;height:20.00px;background:#530000;"></div>
<div class="t" style="left:153.99px;top:333.00px;font-size:18.02px;line-height:18.02px;color:#ece6e2;transform:scaleX(0.7600);letter-spacing:1.1px;">121.47</div>
<div style="left:231.40px;top:341.60px;width:5.20px;height:1.20px;background:#b8b4b4;"></div>
<div style="left:265.00px;top:332.00px;width:62.00px;height:20.00px;background:#004800;"></div>
<div class="t" style="left:277.85px;top:333.00px;font-size:18.02px;line-height:18.02px;color:#ece6e2;transform:scaleX(0.7600);letter-spacing:1.1px;">141.38</div>
<div style="left:327.00px;top:332.00px;width:63.00px;height:20.00px;background:#530000;"></div>
<div class="t" style="left:340.99px;top:333.00px;font-size:18.02px;line-height:18.02px;color:#ece6e2;transform:scaleX(0.7600);letter-spacing:1.1px;">98.987</div>
<div style="left:390.00px;top:332.00px;width:62.00px;height:20.00px;background:#530000;"></div>
<div class="t" style="left:402.85px;top:333.00px;font-size:18.02px;line-height:18.02px;color:#ece6e2;transform:scaleX(0.7600);letter-spacing:1.1px;">90.676</div>
<div style="left:452.00px;top:332.00px;width:62.00px;height:20.00px;background:#530000;"></div>
<div class="t" style="left:464.72px;top:333.00px;font-size:18.02px;line-height:18.02px;color:#ece6e2;transform:scaleX(0.7600);letter-spacing:1.1px;">95.254</div>
<div style="left:514.00px;top:332.00px;width:62.00px;height:20.00px;background:#530000;"></div>
<div class="t" style="left:526.85px;top:333.00px;font-size:18.02px;line-height:18.02px;color:#ece6e2;transform:scaleX(0.7600);letter-spacing:1.1px;">14.955</div>
<div style="left:576.00px;top:332.00px;width:63.00px;height:20.00px;background:#530000;"></div>
<div class="t" style="left:590.88px;top:333.00px;font-size:18.02px;line-height:18.02px;color:#ece6e2;transform:scaleX(0.7600);letter-spacing:1.1px;">11.995</div>
<div style="left:639.00px;top:332.00px;width:62.00px;height:20.00px;background:#008018;"></div>
<div class="t" style="left:651.85px;top:333.00px;font-size:18.02px;line-height:18.02px;color:#ece6e2;transform:scaleX(0.7600);letter-spacing:1.1px;">2684.5</div>
<div style="left:701.00px;top:332.00px;width:62.00px;height:20.00px;background:#530000;"></div>
<div class="t" style="left:710.09px;top:333.00px;font-size:18.02px;line-height:18.02px;color:#ece6e2;transform:scaleX(0.7600);letter-spacing:1.1px;">146983</div>
<div style="left:15.00px;top:353.00px;width:62.00px;height:20.00px;background:#fd9f2a;"></div>
<div style="left:15.00px;top:352.00px;width:62.00px;height:1.00px;background:#2e2c0c;"></div>
<div class="t" style="left:31.06px;top:354.00px;font-size:17.44px;line-height:17.44px;color:#1c1408;transform:scaleX(0.6760);letter-spacing:1.105px;">EUR</div>
<div style="left:78.00px;top:352.00px;width:62.00px;height:21.00px;background:#530000;"></div>
<div class="t" style="left:90.92px;top:353.00px;font-size:18.02px;line-height:18.02px;color:#ece6e2;transform:scaleX(0.7600);letter-spacing:1.1px;">.76591</div>
<div style="left:168.90px;top:361.60px;width:5.20px;height:1.20px;background:#b8b4b4;"></div>
<div style="left:203.00px;top:352.00px;width:62.00px;height:21.00px;background:#004800;"></div>
<div class="t" style="left:215.85px;top:353.00px;font-size:18.02px;line-height:18.02px;color:#ece6e2;transform:scaleX(0.7600);letter-spacing:1.1px;">.00823</div>
<div style="left:265.00px;top:352.00px;width:62.00px;height:21.00px;background:#004800;"></div>
<div class="t" style="left:277.92px;top:353.00px;font-size:18.02px;line-height:18.02px;color:#ece6e2;transform:scaleX(0.7600);letter-spacing:1.1px;">1.1639</div>
<div style="left:327.00px;top:352.00px;width:63.00px;height:21.00px;background:#530000;"></div>
<div class="t" style="left:340.92px;top:353.00px;font-size:18.02px;line-height:18.02px;color:#ece6e2;transform:scaleX(0.7600);letter-spacing:1.1px;">.81491</div>
<div style="left:390.00px;top:352.00px;width:62.00px;height:21.00px;background:#530000;"></div>
<div class="t" style="left:402.78px;top:353.00px;font-size:18.02px;line-height:18.02px;color:#ece6e2;transform:scaleX(0.7600);letter-spacing:1.1px;">.74650</div>
<div style="left:452.00px;top:352.00px;width:62.00px;height:21.00px;background:#004800;"></div>
<div class="t" style="left:464.85px;top:353.00px;font-size:18.02px;line-height:18.02px;color:#ece6e2;transform:scaleX(0.7600);letter-spacing:1.1px;">.78418</div>
<div style="left:514.00px;top:352.00px;width:62.00px;height:21.00px;background:#530000;"></div>
<div class="t" style="left:526.99px;top:353.00px;font-size:18.02px;line-height:18.02px;color:#ece6e2;transform:scaleX(0.7600);letter-spacing:1.1px;">.12312</div>
<div style="left:576.00px;top:352.00px;width:63.00px;height:21.00px;background:#530000;"></div>
<div class="t" style="left:589.85px;top:353.00px;font-size:18.02px;line-height:18.02px;color:#ece6e2;transform:scaleX(0.7600);letter-spacing:1.1px;">.09875</div>
<div style="left:639.00px;top:352.00px;width:62.00px;height:21.00px;background:#008018;"></div>
<div class="t" style="left:651.78px;top:353.00px;font-size:18.02px;line-height:18.02px;color:#ece6e2;transform:scaleX(0.7600);letter-spacing:1.1px;">22.100</div>
<div style="left:701.00px;top:352.00px;width:62.00px;height:21.00px;background:#004800;"></div>
<div class="t" style="left:713.78px;top:353.00px;font-size:18.02px;line-height:18.02px;color:#ece6e2;transform:scaleX(0.7600);letter-spacing:1.1px;">1210.0</div>
<div class="t" style="left:32.15px;top:376.00px;font-size:16.86px;line-height:16.86px;color:#ece6e2;transform:scaleX(0.6724);letter-spacing:1.071px;">USD</div>
<div style="left:106.40px;top:382.60px;width:5.20px;height:1.20px;background:#b8b4b4;"></div>
<div style="left:140.00px;top:373.00px;width:63.00px;height:19.00px;background:#004800;"></div>
<div class="t" style="left:153.85px;top:374.00px;font-size:18.02px;line-height:18.02px;color:#ece6e2;transform:scaleX(0.7600);letter-spacing:1.1px;">1.3056</div>
<div style="left:203.00px;top:373.00px;width:62.00px;height:19.00px;background:#004800;"></div>
<div class="t" style="left:215.85px;top:374.00px;font-size:18.02px;line-height:18.02px;color:#ece6e2;transform:scaleX(0.7600);letter-spacing:1.1px;">.01075</div>
<div style="left:265.00px;top:373.00px;width:62.00px;height:19.00px;background:#008018;"></div>
<div class="t" style="left:277.85px;top:374.00px;font-size:18.02px;line-height:18.02px;color:#ece6e2;transform:scaleX(0.7600);letter-spacing:1.1px;">1.5196</div>
<div style="left:327.00px;top:373.00px;width:63.00px;height:19.00px;background:#004800;"></div>
<div class="t" style="left:340.78px;top:374.00px;font-size:18.02px;line-height:18.02px;color:#ece6e2;transform:scaleX(0.7600);letter-spacing:1.1px;">1.0640</div>
<div style="left:390.00px;top:373.00px;width:62.00px;height:19.00px;background:#004800;"></div>
<div class="t" style="left:402.85px;top:374.00px;font-size:18.02px;line-height:18.02px;color:#ece6e2;transform:scaleX(0.7600);letter-spacing:1.1px;">.97465</div>
<div style="left:452.00px;top:373.00px;width:62.00px;height:19.00px;background:#004800;"></div>
<div class="t" style="left:464.92px;top:374.00px;font-size:18.02px;line-height:18.02px;color:#ece6e2;transform:scaleX(0.7600);letter-spacing:1.1px;">1.0239</div>
<div style="left:514.00px;top:373.00px;width:62.00px;height:19.00px;background:#004800;"></div>
<div class="t" style="left:526.72px;top:374.00px;font-size:18.02px;line-height:18.02px;color:#ece6e2;transform:scaleX(0.7600);letter-spacing:1.1px;">.16074</div>
<div style="left:576.00px;top:373.00px;width:63.00px;height:19.00px;background:#232323;"></div>
<div class="t" style="left:589.85px;top:374.00px;font-size:18.02px;line-height:18.02px;color:#ece6e2;transform:scaleX(0.7600);letter-spacing:1.1px;">.12893</div>
<div style="left:639.00px;top:373.00px;width:62.00px;height:19.00px;background:#008018;"></div>
<div class="t" style="left:651.85px;top:374.00px;font-size:18.02px;line-height:18.02px;color:#ece6e2;transform:scaleX(0.7600);letter-spacing:1.1px;">28.855</div>
<div style="left:701.00px;top:373.00px;width:62.00px;height:19.00px;background:#004800;"></div>
<div class="t" style="left:713.92px;top:374.00px;font-size:18.02px;line-height:18.02px;color:#ece6e2;transform:scaleX(0.7600);letter-spacing:1.1px;">1579.9</div>
<div style="left:15.00px;top:413.00px;width:758.60px;height:20.20px;background:linear-gradient(#7a7a7a 0px,#7a7a7a 1px,#4c4c4c 1.5px,#484848 6px,#444 10px,#3a3a3a 11px,#363636 15px,#2e2e2e 18px,#1a1a1a 19px,#1a1a1a 20.2px);"></div>
<div class="t" style="left:16.23px;top:416.00px;font-size:15.70px;line-height:15.70px;color:#e8e4e4;transform:scaleX(0.8600);word-spacing:4.78px;letter-spacing:0.2px;">% Change on Day Range</div>
<div style="left:15.50px;top:433.20px;width:104.00px;height:20.20px;background:#dc3038;"></div>
<div class="t" style="left:22.87px;top:437.00px;font-size:16.57px;line-height:16.57px;color:#f4f0f0;transform:scaleX(0.8500);word-spacing:6.57px;letter-spacing:0.3px;">Below -2.5%</div>
<div style="left:119.50px;top:433.20px;width:113.40px;height:20.20px;background:#960012;"></div>
<div class="t" style="left:125.47px;top:437.00px;font-size:16.57px;line-height:16.57px;color:#f4f0f0;transform:scaleX(0.8500);word-spacing:3.55px;letter-spacing:0.3px;">-0.5% to -2.5%</div>
<div style="left:232.90px;top:433.20px;width:121.90px;height:20.20px;background:#530000;"></div>
<div class="t" style="left:237.97px;top:437.00px;font-size:16.57px;line-height:16.57px;color:#f4f0f0;transform:scaleX(0.8500);word-spacing:4.39px;letter-spacing:0.3px;">-0.05% to -0.5%</div>
<div style="left:354.80px;top:433.20px;width:125.00px;height:20.20px;background:#242424;"></div>
<div class="t" style="left:360.57px;top:437.00px;font-size:16.57px;line-height:16.57px;color:#f4f0f0;transform:scaleX(0.8500);word-spacing:2.59px;letter-spacing:0.3px;">-0.05% to 0.05%</div>
<div style="left:479.80px;top:433.20px;width:107.70px;height:20.20px;background:#004800;"></div>
<div class="t" style="left:484.74px;top:437.00px;font-size:16.57px;line-height:16.57px;color:#f4f0f0;transform:scaleX(0.8500);word-spacing:1.87px;letter-spacing:0.3px;">0.05% to 0.5%</div>
<div style="left:587.50px;top:433.20px;width:99.00px;height:20.20px;background:#008018;"></div>
<div class="t" style="left:592.14px;top:437.00px;font-size:16.57px;line-height:16.57px;color:#f4f0f0;transform:scaleX(0.8500);word-spacing:1.56px;letter-spacing:0.3px;">0.5% to 2.5%</div>
<div style="left:686.50px;top:433.20px;width:86.70px;height:20.20px;background:#33c833;"></div>
<div class="t" style="left:689.50px;top:437.00px;font-size:16.57px;line-height:16.57px;color:#f4f0f0;transform:scaleX(0.8500);word-spacing:2.72px;letter-spacing:0.3px;">Above 2.5%</div>
</body></html>
